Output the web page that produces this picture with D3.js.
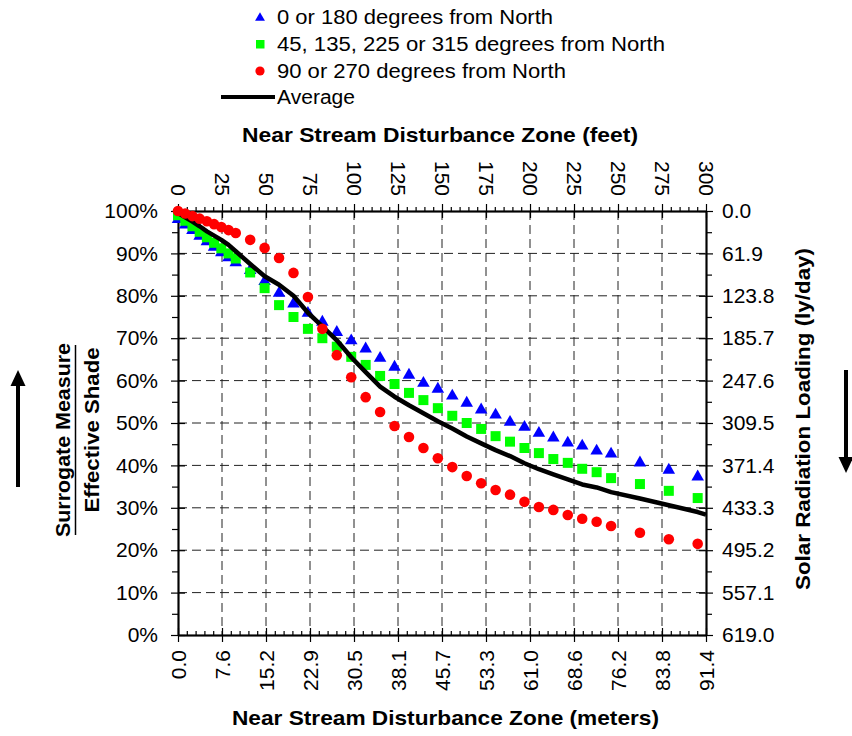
<!DOCTYPE html>
<html>
<head>
<meta charset="utf-8">
<script src="https://cdn.jsdelivr.net/npm/d3@7"></script>
<style>
  html, body { margin: 0; padding: 0; background: #fff; }
  svg { display: block; font-family: "Liberation Sans", Arial, sans-serif; }
</style>
</head>
<body>
<svg id="chart" width="852" height="736"></svg>
<script>
// ---------------- data ----------------
const distM = [0, 1.25, 2.5, 3.75, 5, 6.25, 7.5, 8.75, 10, 12.5, 15, 17.5, 20, 22.5, 25, 27.5, 30,
  32.5, 35, 37.5, 40, 42.5, 45, 47.5, 50, 52.5, 55, 57.5, 60, 62.5, 65, 67.5, 70, 72.5, 75, 80, 85, 90];
const shadeNS = [98.0, 96.7, 95.4, 94.1, 92.8, 91.5, 90.2, 89.0, 87.8, 86.0, 83.4, 80.6, 78.1, 75.9, 73.8, 71.4, 69.4,
  67.5, 65.3, 63.2, 61.3, 59.4, 58.0, 56.4, 54.7, 53.1, 51.9, 50.2, 49.0, 47.6, 46.5, 45.3, 44.6, 43.4, 42.7, 40.6, 38.9, 37.3];
const shadeDiag = [99.0, 97.7, 96.4, 95.1, 93.8, 92.5, 91.2, 90.0, 88.8, 85.5, 81.8, 77.8, 75.0, 72.2, 70.0, 68.0, 65.6,
  63.7, 61.1, 59.2, 57.1, 55.4, 53.5, 51.7, 50.0, 48.6, 46.9, 45.6, 44.1, 42.9, 41.5, 40.6, 39.2, 38.4, 37.0, 35.6, 34.0, 32.3];
const shadeEW = [100, 99.4, 98.8, 98.2, 97.6, 96.9, 96.2, 95.5, 94.8, 93.2, 91.3, 88.9, 85.4, 79.7, 72.2, 66.0, 60.8,
  56.1, 52.6, 49.3, 46.7, 44.1, 41.7, 39.6, 37.5, 35.8, 34.2, 33.1, 31.4, 30.2, 29.5, 28.3, 27.4, 26.7, 25.7, 24.1, 22.6, 21.5];
const avgDistM = [0, 1.25, 2.5, 3.75, 5, 6.25, 7.5, 8.75, 10, 12.5, 15, 17.5, 20, 22.5, 25, 27.5, 30,
  32.5, 35, 37.5, 40, 42.5, 45, 47.5, 50, 52.5, 55, 57.5, 60, 62.5, 65, 67.5, 70, 72.5, 75, 80, 85, 90, 91.44];
const shadeAvg = [99.5, 98.5, 97.5, 96.4, 95.2, 94.2, 93.2, 92.0, 90.5, 87.5, 84.6, 82.6, 80.0, 76.0, 72.8, 69.5, 65.5,
  62.0, 58.6, 56.2, 54.2, 52.3, 50.4, 48.7, 46.8, 45.2, 43.6, 42.2, 40.5, 39.1, 37.9, 36.7, 35.5, 34.8, 33.7, 32.2, 30.6, 29.0, 28.4];

const feetTicks = [0, 25, 50, 75, 100, 125, 150, 175, 200, 225, 250, 275, 300];
const meterLabels = ["0.0", "7.6", "15.2", "22.9", "30.5", "38.1", "45.7", "53.3", "61.0", "68.6", "76.2", "83.8", "91.4"];
const pctTicks = [0, 10, 20, 30, 40, 50, 60, 70, 80, 90, 100];
const pctLabels = ["0%", "10%", "20%", "30%", "40%", "50%", "60%", "70%", "80%", "90%", "100%"];
const solarLabels = ["619.0", "557.1", "495.2", "433.3", "371.4", "309.5", "247.6", "185.7", "123.8", "61.9", "0.0"];

const legendLabels = ["0 or 180 degrees from North", "45, 135, 225 or 315 degrees from North",
  "90 or 270 degrees from North", "Average"];

// ---------------- layout ----------------
const L = 178, R = 706, T = 211, B = 635;
const svg = d3.select("#chart");
const xFt = d3.scaleLinear().domain([0, 300]).range([L, R]);
const xM = d3.scaleLinear().domain([0, 91.44]).range([L, R]);
const yP = d3.scaleLinear().domain([0, 100]).range([B, T]);

const minorFt = d3.range(0, 301, 5).filter(v => v % 25 !== 0);
const minorPct = d3.range(5, 100, 10);
const FS = 21;

// gridlines
const grid = svg.append("g");
grid.selectAll("line.v").data(feetTicks.slice(1, -1)).join("line")
  .attr("x1", d => xFt(d)).attr("x2", d => xFt(d)).attr("y1", T).attr("y2", B)
  .attr("stroke", "#222").attr("stroke-width", 1).attr("stroke-dasharray", "9,5");
grid.selectAll("line.h").data(pctTicks.slice(1, -1)).join("line")
  .attr("y1", d => yP(d)).attr("y2", d => yP(d)).attr("x1", L).attr("x2", R)
  .attr("stroke", "#222").attr("stroke-width", 1).attr("stroke-dasharray", "9,5");

function styleAxis(g) {
  g.select(".domain").attr("stroke", "#000").attr("stroke-width", 1.5);
  g.selectAll(".tick line").attr("stroke", "#000").attr("stroke-width", 1.2);
  g.selectAll("text").attr("fill", "#000").style("font-size", FS + "px")
    .style("font-family", '"Liberation Sans", Arial, sans-serif');
}

// bottom axis (meters labels at feet positions)
const axBottom = svg.append("g").attr("transform", `translate(0,${B})`)
  .call(d3.axisBottom(xFt).tickValues(feetTicks).tickSize(7).tickSizeOuter(0)
    .tickFormat((d, i) => meterLabels[i]));
axBottom.selectAll("text").attr("transform", "rotate(-90)").attr("text-anchor", "end")
  .attr("x", -15).attr("y", 0).attr("dy", "0.35em");
styleAxis(axBottom);
svg.append("g").attr("transform", `translate(0,${B})`)
  .call(d3.axisTop(xFt).tickValues(feetTicks).tickSize(7).tickSizeOuter(0).tickFormat(""))
  .call(styleAxis);
svg.append("g").attr("transform", `translate(0,${B})`)
  .call(d3.axisTop(xFt).tickValues(minorFt).tickSize(4).tickSizeOuter(0).tickFormat(""))
  .call(styleAxis);

// top axis (feet)
const axTop = svg.append("g").attr("transform", `translate(0,${T})`)
  .call(d3.axisTop(xFt).tickValues(feetTicks).tickSize(7).tickSizeOuter(0));
axTop.selectAll("text").attr("transform", "rotate(90)").attr("text-anchor", "end")
  .attr("x", -15).attr("y", 0).attr("dy", "0.35em");
styleAxis(axTop);
svg.append("g").attr("transform", `translate(0,${T})`)
  .call(d3.axisBottom(xFt).tickValues(feetTicks).tickSize(7).tickSizeOuter(0).tickFormat(""))
  .call(styleAxis);
svg.append("g").attr("transform", `translate(0,${T})`)
  .call(d3.axisTop(xFt).tickValues(minorFt).tickSize(4).tickSizeOuter(0).tickFormat(""))
  .call(styleAxis);

// left axis
const axLeft = svg.append("g").attr("transform", `translate(${L},0)`)
  .call(d3.axisLeft(yP).tickValues(pctTicks).tickSize(7).tickSizeOuter(0)
    .tickFormat((d, i) => pctLabels[i]).tickPadding(13));
styleAxis(axLeft);
svg.append("g").attr("transform", `translate(${L},0)`)
  .call(d3.axisRight(yP).tickValues(pctTicks).tickSize(7).tickSizeOuter(0).tickFormat(""))
  .call(styleAxis);
svg.append("g").attr("transform", `translate(${L},0)`)
  .call(d3.axisLeft(yP).tickValues(minorPct).tickSize(6).tickSizeOuter(0).tickFormat(""))
  .call(styleAxis);

// right axis
const axRight = svg.append("g").attr("transform", `translate(${R},0)`)
  .call(d3.axisRight(yP).tickValues(pctTicks).tickSize(7).tickSizeOuter(0)
    .tickFormat((d, i) => solarLabels[i]).tickPadding(9));
styleAxis(axRight);
svg.append("g").attr("transform", `translate(${R},0)`)
  .call(d3.axisLeft(yP).tickValues(pctTicks).tickSize(7).tickSizeOuter(0).tickFormat(""))
  .call(styleAxis);
svg.append("g").attr("transform", `translate(${R},0)`)
  .call(d3.axisRight(yP).tickValues(minorPct).tickSize(6).tickSizeOuter(0).tickFormat(""))
  .call(styleAxis);

// ---------------- marks ----------------
const tri = d3.symbol().type(d3.symbolTriangle).size(68);
const sq = d3.symbol().type(d3.symbolSquare).size(100);
const plot = svg.append("g");

plot.selectAll("path.ns").data(distM).join("path")
  .attr("class", "ns").attr("d", tri).attr("fill", "#0000ff")
  .attr("transform", (d, i) => `translate(${xM(d)},${yP(shadeNS[i])})`);
plot.selectAll("path.dg").data(distM).join("path")
  .attr("class", "dg").attr("d", sq).attr("fill", "#00ff00")
  .attr("transform", (d, i) => `translate(${xM(d)},${yP(shadeDiag[i])})`);

const line = d3.line().x(d => xM(d[0])).y(d => yP(d[1]));
plot.append("path").datum(avgDistM.map((d, i) => [d, shadeAvg[i]]))
  .attr("d", line).attr("fill", "none").attr("stroke", "#000").attr("stroke-width", 4.5)
  .attr("stroke-linejoin", "round");

plot.selectAll("circle.ew").data(distM).join("circle")
  .attr("class", "ew").attr("cx", d => xM(d)).attr("cy", (d, i) => yP(shadeEW[i]))
  .attr("r", 5.3).attr("fill", "#ff0000");

// ---------------- legend ----------------
const lg = svg.append("g");
const lgBase = [24, 51, 77.5, 104];
const lgWidths = [276, 388, 289, 78];
lg.selectAll("text").data(legendLabels).join("text")
  .attr("x", 277).attr("y", (d, i) => lgBase[i])
  .attr("textLength", (d, i) => lgWidths[i]).attr("lengthAdjust", "spacingAndGlyphs")
  .style("font-size", "20px").attr("fill", "#000").text(d => d);
lg.append("path").attr("d", d3.symbol().type(d3.symbolTriangle).size(42))
  .attr("transform", "translate(260,18)").attr("fill", "#0000ff");
lg.append("rect").attr("x", 256).attr("y", 40).attr("width", 8.5).attr("height", 8.5).attr("fill", "#00ff00");
lg.append("circle").attr("cx", 260).attr("cy", 71).attr("r", 4.6).attr("fill", "#ff0000");
lg.append("line").attr("x1", 221).attr("x2", 275).attr("y1", 97).attr("y2", 97)
  .attr("stroke", "#000").attr("stroke-width", 4);

// ---------------- titles ----------------
svg.append("text").attr("x", 242).attr("y", 142).attr("textLength", 396).attr("lengthAdjust", "spacingAndGlyphs")
  .style("font-size", "21px").style("font-weight", "bold").text("Near Stream Disturbance Zone (feet)");
svg.append("text").attr("x", 232).attr("y", 725).attr("textLength", 427).attr("lengthAdjust", "spacingAndGlyphs")
  .style("font-size", "21px").style("font-weight", "bold").text("Near Stream Disturbance Zone (meters)");
svg.append("text").attr("transform", "translate(810,419) rotate(-90)").attr("text-anchor", "middle")
  .attr("textLength", 342).attr("lengthAdjust", "spacingAndGlyphs")
  .style("font-size", "20.5px").style("font-weight", "bold").text("Solar Radiation Loading (ly/day)");
svg.append("text").attr("transform", "translate(70,440) rotate(-90)").attr("text-anchor", "middle")
  .attr("textLength", 194).attr("lengthAdjust", "spacingAndGlyphs")
  .style("font-size", "20.5px").style("font-weight", "bold").text("Surrogate Measure");
svg.append("text").attr("transform", "translate(99,430) rotate(-90)").attr("text-anchor", "middle")
  .attr("textLength", 165).attr("lengthAdjust", "spacingAndGlyphs")
  .style("font-size", "20.5px").style("font-weight", "bold").text("Effective Shade");
svg.append("line").attr("x1", 75.5).attr("x2", 75.5).attr("y1", 345).attr("y2", 535)
  .attr("stroke", "#000").attr("stroke-width", 1.5);

// arrows
svg.append("line").attr("x1", 18).attr("x2", 18).attr("y1", 487).attr("y2", 383)
  .attr("stroke", "#000").attr("stroke-width", 4);
svg.append("path").attr("d", "M18,370 L25.5,386 L10.5,386 Z").attr("fill", "#000");
svg.append("line").attr("x1", 846).attr("x2", 846).attr("y1", 370).attr("y2", 459)
  .attr("stroke", "#000").attr("stroke-width", 4);
svg.append("path").attr("d", "M846,473 L853.5,457 L838.5,457 Z").attr("fill", "#000");
</script>
</body>
</html>
